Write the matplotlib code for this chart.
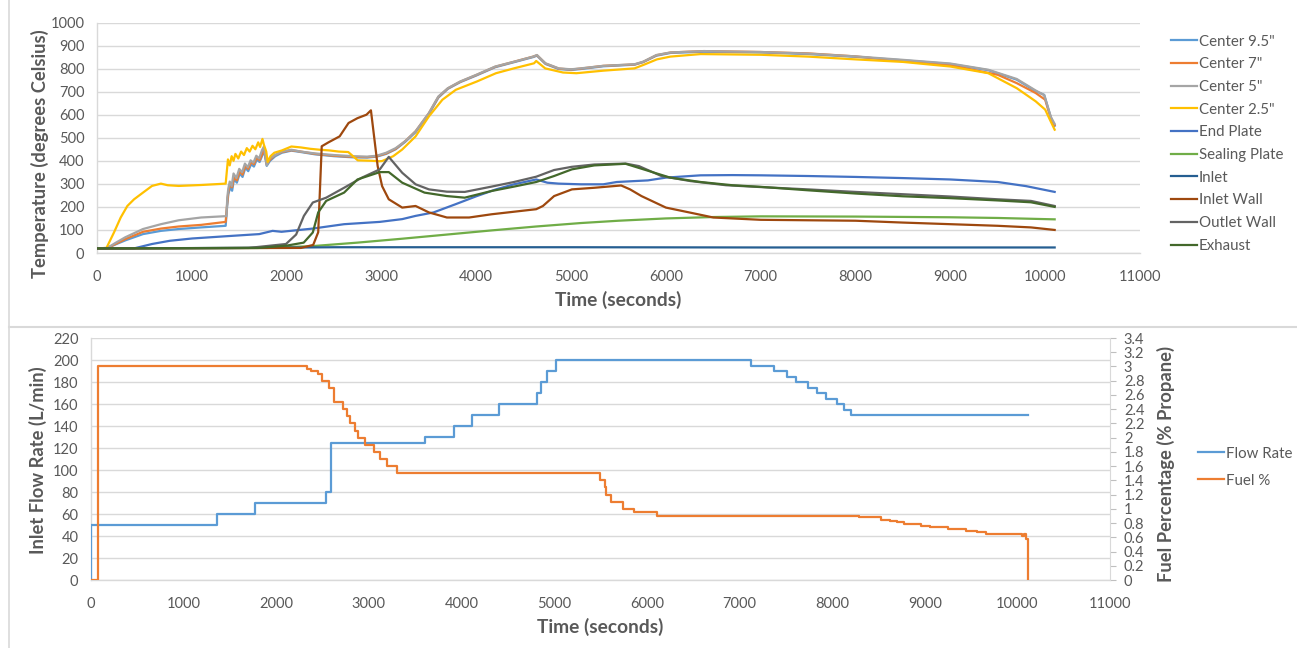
import numpy as np
import matplotlib
matplotlib.use('Agg')
import matplotlib.pyplot as plt
from matplotlib.lines import Line2D

plt.rcParams['font.family'] = ['Lato', 'DejaVu Sans']

# ---------------- top chart data (time in s, temperature in C) ----------------
t_c95 = [0, 100, 200, 300, 485, 674, 862, 1098, 1357, 1372, 1385, 1405, 1425, 1445, 1475, 1505, 1535, 1565,
         1595, 1625, 1655, 1685, 1715, 1745, 1762, 1790, 1825, 1880, 1950, 2050, 2150, 2300, 2500, 2700, 2850,
         2950, 3050, 3150, 3250, 3360, 3500, 3600, 3700, 3830, 4000, 4200, 4400, 4600, 4640, 4730, 4870, 5000,
         5100, 5340, 5670, 5760, 5900, 6050, 6400, 7000, 7500, 8000, 8500, 9000, 9400, 9700, 9900, 9990, 10030,
         10060, 10100]
v_c95 = [20, 20, 38, 55, 82, 96, 104, 111, 118, 200, 255, 285, 270, 320, 305, 345, 330, 370, 355, 385, 375,
         405, 395, 425, 445, 378, 400, 420, 435, 444, 438, 428, 420, 415, 414, 418, 430, 450, 482, 524, 602, 674,
         712, 741, 770, 806, 828, 850, 856, 820, 798, 794, 798, 810, 817, 828, 856, 868, 873, 870, 863, 851, 836,
         820, 793, 752, 702, 686, 630, 588, 552]

t_c7 = [0, 100, 200, 297, 485, 674, 862, 1098, 1357, 1372, 1385, 1405, 1425, 1445, 1475, 1505, 1535, 1565,
        1595, 1625, 1655, 1685, 1715, 1745, 1762, 1790, 1825, 1880, 1950, 2050, 2150, 2300, 2500, 2700, 2850,
        2950, 3050, 3150, 3250, 3360, 3500, 3600, 3700, 3830, 4000, 4200, 4400, 4600, 4640, 4730, 4870, 5000,
        5100, 5340, 5670, 5760, 5900, 6050, 6400, 7000, 7500, 8000, 8500, 9000, 9500, 9700, 9900, 10000, 10040,
        10070, 10100]
v_c7 = [20, 20, 40, 60, 92, 106, 115, 122, 135, 210, 265, 300, 285, 330, 315, 355, 340, 378, 365, 395, 385,
        415, 402, 432, 450, 385, 405, 425, 438, 446, 440, 430, 422, 417, 416, 420, 432, 452, 485, 528, 606, 677,
        714, 743, 772, 808, 830, 852, 858, 822, 800, 796, 800, 812, 818, 829, 858, 870, 876, 872, 866, 853, 832,
        815, 773, 737, 694, 665, 610, 575, 555]

t_c5 = [0, 108, 200, 297, 485, 674, 862, 1098, 1365, 1374, 1385, 1400, 1420, 1440, 1470, 1500, 1530, 1560,
        1590, 1620, 1650, 1680, 1710, 1740, 1760, 1790, 1820, 1880, 1950, 2050, 2150, 2300, 2500, 2700, 2850,
        2950, 3050, 3150, 3250, 3360, 3500, 3600, 3700, 3830, 4000, 4200, 4400, 4600, 4640, 4730, 4870, 5000,
        5100, 5340, 5670, 5760, 5900, 6050, 6400, 7000, 7500, 8000, 8500, 9000, 9400, 9700, 9900, 9990, 10030,
        10060, 10100]
v_c5 = [20, 22, 45, 68, 104, 125, 142, 154, 160, 240, 280, 310, 290, 345, 325, 365, 350, 388, 372, 402, 392,
        422, 410, 446, 462, 380, 410, 425, 440, 448, 440, 432, 425, 420, 418, 422, 435, 455, 485, 528, 607, 679,
        715, 744, 773, 809, 830, 852, 859, 823, 801, 797, 801, 812, 819, 830, 859, 870, 876, 872, 865, 853, 838,
        822, 795, 755, 705, 685, 630, 590, 560]

t_c25 = [0, 100, 179, 250, 320, 391, 485, 580, 674, 745, 862, 1098, 1357, 1381, 1400, 1420, 1440, 1460, 1490,
         1520, 1550, 1580, 1610, 1640, 1670, 1700, 1720, 1745, 1760, 1785, 1800, 1830, 1870, 1950, 2050, 2150,
         2250, 2350, 2450, 2550, 2650, 2700, 2750, 2900, 2980, 3007, 3124, 3219, 3360, 3501, 3643, 3784, 4006,
         4208, 4397, 4609, 4632, 4727, 4915, 5056, 5339, 5669, 5763, 5905, 6046, 6366, 7000, 7500, 8000, 8500,
         9000, 9400, 9700, 9900, 10000, 10050, 10100]
v_c25 = [20, 22, 89, 154, 204, 233, 262, 291, 301, 294, 291, 295, 301, 406, 380, 420, 400, 430, 410, 440, 425,
         455, 440, 465, 450, 480, 460, 495, 470, 440, 395, 420, 435, 445, 462, 458, 452, 448, 445, 440, 438, 420,
         402, 400, 398, 399, 420, 449, 506, 593, 665, 708, 744, 780, 801, 823, 833, 801, 783, 780, 791, 801, 816,
         840, 852, 863, 860, 852, 840, 829, 809, 780, 715, 658, 622, 578, 535]

t_end = [0, 391, 580, 768, 1004, 1334, 1711, 1852, 1946, 2276, 2606, 2983, 3219, 3360, 3549, 3784, 4006, 4208,
         4397, 4632, 4750, 4868, 5104, 5339, 5481, 5810, 5999, 6366, 6700, 7000, 7500, 8000, 8500, 9000, 9500,
         9800, 10100]
v_end = [20, 20, 39, 53, 63, 72, 82, 96, 92, 106, 125, 135, 147, 161, 176, 212, 247, 276, 298, 319, 305, 301,
         298, 298, 308, 315, 327, 337, 338, 337, 334, 330, 325, 319, 308, 290, 265]

t_seal = [0, 1800, 2276, 2747, 3219, 3690, 4161, 4632, 5104, 5500, 6000, 6500, 7000, 8000, 9000, 9500, 10100]
v_seal = [20, 22, 30, 45, 62, 80, 98, 115, 130, 140, 150, 156, 159, 158, 155, 152, 146]

t_inlet = [0, 1500, 2500, 5000, 7000, 8500, 10100]
v_inlet = [20, 22, 25, 25, 24, 24, 24]

t_iwall = [0, 2150, 2280, 2333, 2370, 2441, 2559, 2653, 2747, 2842, 2889, 2960, 3007, 3077, 3219, 3360, 3501,
           3690, 3925, 4161, 4632, 4703, 4821, 5009, 5245, 5528, 5622, 5742, 6000, 6258, 6500, 7000, 8000, 8500,
           9000, 9500, 9850, 10100]
v_iwall = [20, 22, 35, 90, 463, 480, 506, 564, 585, 600, 619, 377, 290, 233, 197, 204, 176, 154, 154, 168, 190,
           204, 247, 276, 283, 293, 276, 247, 197, 175, 154, 144, 140, 132, 125, 118, 111, 100]

t_owall = [0, 1600, 1993, 2100, 2182, 2276, 2417, 2606, 2794, 2983, 3077, 3219, 3360, 3501, 3690, 3878, 4161,
           4397, 4632, 4821, 5009, 5245, 5575, 5716, 5952, 6258, 6634, 7000, 7500, 8000, 8500, 9000, 9500, 9850,
           10100]
v_owall = [20, 22, 39, 80, 161, 219, 240, 283, 327, 363, 417, 348, 298, 276, 266, 265, 288, 308, 331, 360, 374,
           384, 388, 377, 334, 312, 294, 286, 276, 265, 255, 245, 233, 226, 204]

t_exh = [0, 1700, 2000, 2180, 2276, 2333, 2417, 2606, 2747, 2983, 3077, 3219, 3454, 3690, 3878, 4161, 4397,
         4632, 4821, 5009, 5245, 5575, 5763, 6045, 6366, 6700, 7000, 7500, 8000, 8500, 9000, 9500, 9850, 10100]
v_exh = [20, 22, 32, 45, 89, 176, 226, 262, 319, 351, 351, 305, 262, 247, 240, 269, 288, 308, 334, 363, 380,
         387, 363, 327, 308, 294, 287, 272, 258, 246, 238, 228, 220, 200]

top_series = [
    ('Center 9.5"', t_c95, v_c95, '#5B9BD5'),
    ('Center 7"', t_c7, v_c7, '#ED7D31'),
    ('Center 5"', t_c5, v_c5, '#A5A5A5'),
    ('Center 2.5"', t_c25, v_c25, '#FFC000'),
    ('End Plate', t_end, v_end, '#4472C4'),
    ('Sealing Plate', t_seal, v_seal, '#70AD47'),
    ('Inlet', t_inlet, v_inlet, '#255E91'),
    ('Inlet Wall', t_iwall, v_iwall, '#9E480E'),
    ('Outlet Wall', t_owall, v_owall, '#636363'),
    ('Exhaust', t_exh, v_exh, '#43682B'),
]

# ---------------- bottom chart data ----------------
flow_t = [0, 0, 1355, 1775, 2537, 2594, 3607, 3915, 4113, 4402, 4817, 4860, 4927, 5024, 7130, 7376, 7516,
          7613, 7738, 7834, 7930, 8051, 8132, 8207, 10110]
flow_v = [0, 50, 60, 70, 80, 125, 130, 140, 150, 160, 170, 180, 190, 200, 195, 190, 185, 180, 175, 170, 165,
          160, 155, 150, 150]

fuel_t = [0, 80, 2334, 2377, 2454, 2498, 2570, 2619, 2719, 2763, 2801, 2850, 2884, 2961, 3058, 3115, 3193,
          3298, 5492, 5550, 5564, 5608, 5748, 5863, 6114, 8294, 8531, 8629, 8700, 8775, 8870, 8963, 9060, 9158,
          9255, 9350, 9450, 9560, 9665, 10054, 10076, 10098, 10110]
fuel_v = [0, 3.0, 2.97, 2.94, 2.9, 2.8, 2.7, 2.5, 2.4, 2.3, 2.2, 2.1, 2.0, 1.9, 1.8, 1.7, 1.6, 1.5, 1.4, 1.3,
          1.2, 1.1, 1.0, 0.95, 0.9, 0.88, 0.85, 0.83, 0.81, 0.79, 0.78, 0.76, 0.75, 0.74, 0.72, 0.71, 0.69, 0.67,
          0.64, 0.62, 0.65, 0.58, 0]

W, H = 1297, 648
txt = '#595959'
grid_c = '#D9D9D9'

fig = plt.figure(figsize=(W / 100, H / 100), dpi=100)

def frac_box(x0, y0, x1, y1):
    return [x0 / W, 1 - y1 / H, (x1 - x0) / W, (y1 - y0) / H]

def style_axis(ax):
    for s in ['top', 'right']:
        ax.spines[s].set_visible(False)
    for s in ['left', 'bottom']:
        ax.spines[s].set_color(grid_c)
        ax.spines[s].set_linewidth(1.0)
    ax.grid(axis='y', color=grid_c, lw=1.0)
    ax.set_axisbelow(True)
    ax.tick_params(length=0, labelsize=10.5, labelcolor=txt)
    ax.tick_params(axis='x', pad=12)
    ax.tick_params(axis='y', pad=9)

# ---- top chart ----
ax = fig.add_axes(frac_box(97, 22.5, 1140, 253))
for name, t, v, c in top_series:
    ax.plot(t, v, color=c, lw=1.6, label=name, zorder=3)
ax.set_xlim(0, 11000)
ax.set_ylim(0, 1000)
ax.set_xticks(np.arange(0, 11001, 1000))
ax.set_yticks(np.arange(0, 1001, 100))
style_axis(ax)
fig.text(40 / W, 1 - 154 / H, 'Temperature (degrees Celsius)', rotation=90, ha='center', va='center',
         fontsize=13.2, fontweight='bold', color=txt)
fig.text(618 / W, 1 - 300 / H, 'Time (seconds)', ha='center', va='center',
         fontsize=13.8, fontweight='bold', color=txt)
ax.legend(loc='upper left', bbox_to_anchor=(1171 / W, 1 - 34.5 / H), bbox_transform=fig.transFigure,
          frameon=False, fontsize=10.8, handlelength=1.75, handletextpad=0.12, labelspacing=0.58,
          borderpad=0, borderaxespad=0, labelcolor=txt)

# ---- bottom chart ----
ax_b = fig.add_axes(frac_box(91, 338, 1110, 580))
ax_b.step(flow_t, flow_v, where='post', color='#5B9BD5', lw=1.6, label='Flow Rate', zorder=3)
ax_b.set_xlim(0, 11000)
ax_b.set_ylim(0, 220)
ax_b.set_xticks(np.arange(0, 11001, 1000))
ax_b.set_yticks(np.arange(0, 221, 20))
style_axis(ax_b)

ax_f = ax_b.twinx()
ax_f.step(fuel_t, fuel_v, where='post', color='#ED7D31', lw=1.6, label='Fuel %', zorder=3)
ax_f.set_ylim(0, 3.4)
ax_f.set_yticks(np.round(np.arange(0, 3.41, 0.2), 1))
ax_f.set_yticklabels(['{:g}'.format(v) for v in np.round(np.arange(0, 3.41, 0.2), 1)])
for s in ['top', 'left', 'bottom']:
    ax_f.spines[s].set_visible(False)
ax_f.spines['right'].set_color(grid_c)
ax_f.tick_params(axis='y', length=4, color='#BFBFBF', labelsize=10.5, labelcolor=txt, pad=6)

fig.text(38 / W, 1 - 460 / H, 'Inlet Flow Rate (L/min)', rotation=90, ha='center', va='center',
         fontsize=13.2, fontweight='bold', color=txt)
fig.text(1166 / W, 1 - 464 / H, 'Fuel Percentage (% Propane)', rotation=90, ha='center', va='center',
         fontsize=13.2, fontweight='bold', color=txt)
fig.text(600 / W, 1 - 627 / H, 'Time (seconds)', ha='center', va='center',
         fontsize=13.8, fontweight='bold', color=txt)

h1, l1 = ax_b.get_legend_handles_labels()
h2, l2 = ax_f.get_legend_handles_labels()
ax_f.legend(h1 + h2, l1 + l2, loc='upper left', bbox_to_anchor=(1198 / W, 1 - 446.5 / H),
            bbox_transform=fig.transFigure, frameon=False, fontsize=10.8, handlelength=1.75,
            handletextpad=0.12, labelspacing=0.87, borderpad=0, borderaxespad=0, labelcolor=txt)

# panel borders
fig.add_artist(Line2D([8.5 / W, 8.5 / W], [0, 1], color=grid_c, lw=1.2))
fig.add_artist(Line2D([8.5 / W, 1], [1 - 327 / H, 1 - 327 / H], color=grid_c, lw=1.5))

fig.savefig('out.png', dpi=100)
